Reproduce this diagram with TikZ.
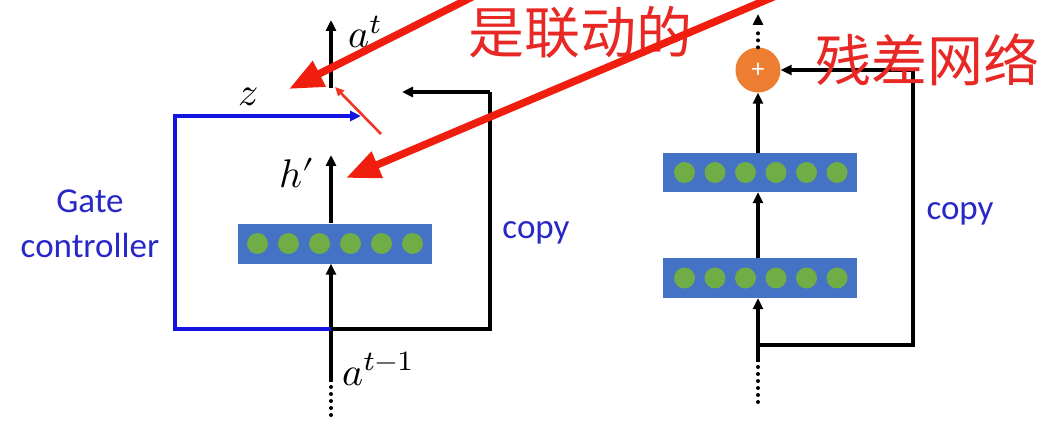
\documentclass[tikz,border=0pt]{standalone}
\usepackage{graphicx}
\usepackage{fontspec}
\usepackage{unicode-math}
\setmathfont{Latin Modern Math}
\newfontfamily\calib{Carlito}
\newfontfamily\cjk{Noto Sans CJK SC}
\usetikzlibrary{arrows.meta}
\definecolor{boxblue}{HTML}{4472C4}
\definecolor{neurongreen}{HTML}{70AD47}
\definecolor{plusorange}{HTML}{ED7D31}
\definecolor{textblue}{RGB}{40,40,200}
\definecolor{lineblue}{RGB}{20,20,225}
\definecolor{annotred}{RGB}{232,40,36}
\definecolor{arrowred}{RGB}{240,30,15}
\newcommand{\biglbl}[1]{\scalebox{4}{$#1$}}
\tikzset{
  conn/.style={line width=3.4pt, black, -{Triangle[length=11pt,width=10pt]}},
  wire/.style={line width=3.4pt},
  layer/.style={fill=boxblue, minimum width=194pt, minimum height=40pt, inner sep=0pt, draw=none},
  neuron/.style={circle, fill=neurongreen, minimum size=21pt, inner sep=0pt},
  dotline/.style={line width=4pt, dash pattern=on 0pt off 7pt, line cap=round},
  bigred/.style={draw=arrowred, line width=7.5pt, -{Triangle[length=34pt,width=27pt]}},
  thinred/.style={draw=arrowred!90!white, line width=2.6pt, -{Triangle[length=9pt,width=8pt]}},
  mathlbl/.style={inner sep=0pt},
  bluetxt/.style={text=textblue, font=\calib\fontsize{35}{42}\selectfont, inner sep=0pt, anchor=base},
  cjktxt/.style={text=annotred, font=\cjk\fontsize{56}{60}\selectfont, inner sep=0pt},
}
\begin{document}
\begin{tikzpicture}[x=1pt,y=-1pt]
\useasboundingbox[fill=white] (0,0) rectangle (1046,422);

% ---------- left diagram ----------
\node[layer] (boxL) at (335,243.5) {};
\foreach \i in {0,...,5} \node[neuron] (nL\i) at ({257.5+31*\i},243.5) {};
\coordinate (Lend) at (331,415);
\coordinate (Lin) at (331,382);
\coordinate (Ljn) at (331,329);
\coordinate (hTop) at (331,155);
\coordinate (aBot) at (331,88);
\coordinate (aTop) at (331,20);
\coordinate (bL) at (175,329);
\coordinate (bT) at (175,116);
\coordinate (bTip) at (361,116);
\coordinate (cB) at (490,329);
\coordinate (cT) at (490,92);
\coordinate (cTip) at (402,92);

\draw[dotline] (Lend) -- (Lin);
\draw[conn] (Lin) -- (boxL.south -| Lin);
\draw[conn] (boxL.north -| Lin) -- (hTop);
\draw[conn] (aBot) -- (aTop);
\draw[wire, draw=lineblue, line join=miter, -{Triangle[length=11pt,width=10pt]}] (Ljn) -- (bL) -- (bT) -- (bTip);
\draw[wire, line join=miter] (Ljn) -- (cB) -- (cT);
\draw[conn] (cT) -- (cTip);

\node[mathlbl] (at) at (366,32) {\biglbl{a^t}};
\node[mathlbl] (z) at (248,97) {\biglbl{z}};
\node[mathlbl] (hp) at (298,173) {\biglbl{h'}};
\node[mathlbl] (atm) at (379,369) {\biglbl{a^{t-1}}};

\node[bluetxt] (gate) at (90,212) {Gate};
\node[bluetxt] (ctrl) at (90,257) {controller};
\node[bluetxt] (copyL) at (536,238) {copy};

% ---------- right diagram ----------
\node[layer, minimum height=39pt] (boxU) at (760,172.5) {};
\node[layer] (boxD) at (760,278) {};
\foreach \i in {0,...,5} {
  \node[neuron] (nU\i) at ({684.5+30.5*\i},172.5) {};
  \node[neuron] (nD\i) at ({684.5+30.5*\i},278) {};
}
\node[circle, fill=plusorange, minimum size=45pt, inner sep=0pt, text=white,
      font=\calib\fontsize{26}{26}\selectfont] (plus) at (758,70) {+};
\coordinate (Rend) at (758,402);
\coordinate (Rin) at (758,362);
\coordinate (Rjn) at (758,345);
\coordinate (rB) at (913,345);
\coordinate (rT) at (913,70);
\coordinate (Rtop) at (758,14);

\draw[dotline] (Rend) -- (Rin);
\draw[conn] (Rin) -- (boxD.south -| Rin);
\draw[conn] (boxD.north -| Rin) -- (boxU.south -| Rin);
\draw[conn] (boxU.north -| Rin) -- (plus.south);
\draw[dotline] (plus.north) -- (758,28);
\draw[line width=3.4pt, -{Triangle[length=11pt,width=10pt]}] (758,25) -- (Rtop);
\draw[wire, line join=miter] (Rjn) -- (rB) -- (rT);
\draw[conn] (rT) -- (plus.east);

\node[bluetxt] (copyR) at (960,219) {copy};

% ---------- annotations ----------
\node[cjktxt] (t1) at (580,32) {是联动的};
\node[cjktxt] (t2) at (927,60) {残差网络};

\coordinate (r1s) at (490,-12);
\coordinate (r1t) at (289,89);
\coordinate (r2s) at (785,-8);
\coordinate (r2t) at (346,178);
\coordinate (r3s) at (381,134);
\coordinate (r3t) at (335,87);
\draw[bigred] (r1s) -- (r1t);
\draw[bigred] (r2s) -- (r2t);
\draw[thinred] (r3s) -- (r3t);
\end{tikzpicture}
\end{document}
